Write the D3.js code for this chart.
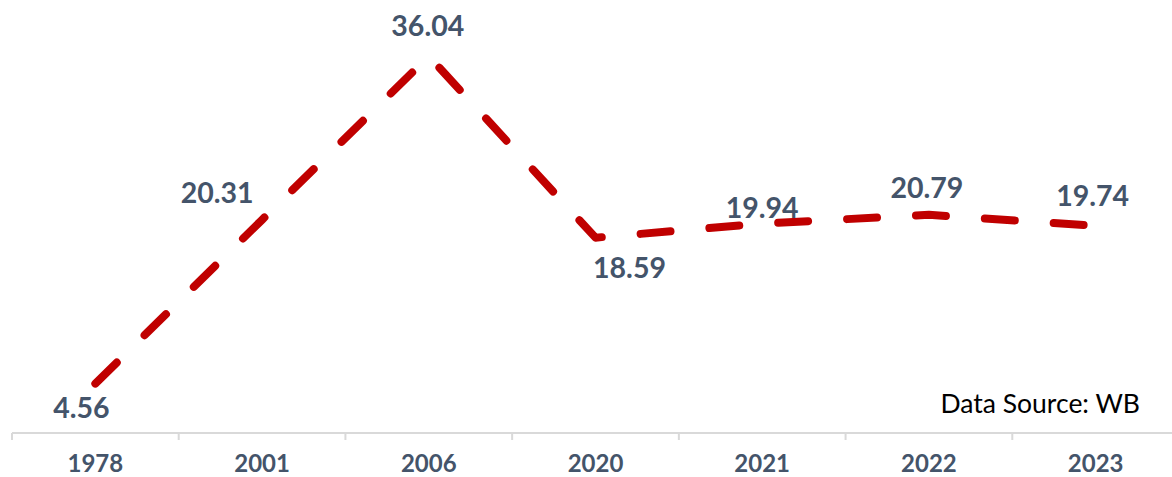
<!DOCTYPE html>
<html><head><meta charset="utf-8">
<script src="https://cdn.jsdelivr.net/npm/d3@7"></script>
<style>
html,body{margin:0;padding:0;background:#fff;}
svg{display:block;}
</style></head>
<body>
<svg id="chart" width="1172" height="477"></svg>
<script>
const categories = ["1978","2001","2006","2020","2021","2022","2023"];
const values = [4.56, 20.31, 36.04, 18.59, 19.94, 20.79, 19.74];
const labelOffsets = [[-14,34],[-45,-17],[-1,-20],[34,40],[0,-6],[-2,-17],[-3,-20]];
const sourceText = "Data Source: WB";

const svg = d3.select("#chart");
const x = d3.scaleBand().domain(categories).range([12, 1179]);
const y = d3.scaleLinear().domain([0, 40]).range([431, 15]);
const axisY = 433;

const g = svg.append("g").attr("transform", `translate(0,${axisY})`);
g.append("line").attr("x1", 12).attr("x2", 1179).attr("y1", 0).attr("y2", 0)
  .attr("stroke", "#D9D9D9").attr("stroke-width", 2);
const bounds = categories.map(c => x(c)).concat([x(categories[categories.length-1]) + x.bandwidth()]);
g.selectAll("line.tick").data(bounds).enter().append("line")
  .attr("x1", d => d).attr("x2", d => d).attr("y1", 0).attr("y2", 7)
  .attr("stroke", "#D9D9D9").attr("stroke-width", 2);
g.selectAll("text.cat").data(categories).enter().append("text")
  .attr("x", d => x(d) + x.bandwidth()/2).attr("y", 39)
  .attr("text-anchor", "middle")
  .attr("font-family", "Lato, 'Open Sans', sans-serif").attr("font-weight", "bold")
  .attr("font-size", 24).attr("fill", "#44546A").text(d => d);

const pts = categories.map((c, i) => [x(c) + x.bandwidth()/2, y(values[i])]);
svg.append("path").attr("d", d3.line()(pts))
  .attr("fill", "none").attr("stroke", "#C00000").attr("stroke-width", 8)
  .attr("stroke-linecap", "round").attr("stroke-linejoin", "round")
  .attr("stroke-dasharray", "30,39");

svg.selectAll("text.val").data(values).enter().append("text")
  .attr("x", (d, i) => pts[i][0] + labelOffsets[i][0])
  .attr("y", (d, i) => pts[i][1] + labelOffsets[i][1])
  .attr("text-anchor", "middle")
  .attr("font-family", "Lato, 'Open Sans', sans-serif").attr("font-weight", "bold")
  .attr("font-size", 28.5).attr("fill", "#44546A").text(d => d.toFixed(2));

svg.append("text").attr("x", 1140).attr("y", 413).attr("text-anchor", "end")
  .attr("font-family", "Lato, 'Open Sans', sans-serif")
  .attr("font-size", 26.5).attr("fill", "#000").text(sourceText);
</script>
</body></html>
